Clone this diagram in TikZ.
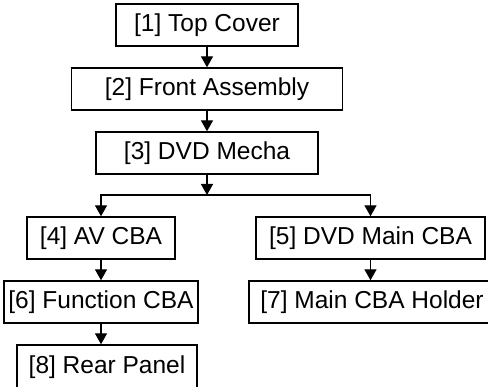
\documentclass[tikz,border=0pt]{standalone}
\usepackage{fontspec}
\setmainfont{Liberation Sans}
\usetikzlibrary{arrows.meta}

\begin{document}
\begin{tikzpicture}[x=1pt, y=-1pt,
  part/.style={draw, line width=1.4pt, minimum height=42pt, inner sep=0pt,
    font=\fontsize{24.5}{28}\selectfont},
  arr/.style={line width=1.4pt, -{Triangle[length=11pt, width=12pt]}}]
\useasboundingbox (0,0) rectangle (488,387);

\node [part, minimum width=182pt] (top) at (207,25) {[1] Top Cover};
\node [part, minimum width=271pt] (front) at (207,89) {[2] Front Assembly};
\node [part, minimum width=222pt] (mecha) at (207,153) {[3] DVD Mecha};
\node [part, minimum width=148pt] (av) at (101,238) {[4] AV CBA};
\node [part, minimum width=229pt] (dvdmain) at (370.5,238) {[5] DVD Main CBA};
\node [part, minimum width=194pt] (function) at (101,302) {[6] Function CBA};
\node [part, minimum width=246pt] (holder) at (372,302) {[7] Main CBA Holder};
\node [part, minimum width=180pt, minimum height=44pt] (rear) at (107,367) {[8] Rear Panel};

\coordinate (split) at (207,195);

\draw [arr] (top) -- (front);
\draw [arr] (front) -- (mecha);
\draw [arr] (mecha) -- (split);
\draw [arr] (split) -| (av.north);
\draw [arr] (split) -| (dvdmain.north);
\draw [arr] (av) -- (function);
\draw [arr] (dvdmain.south) -- (dvdmain.south |- holder.north);
\draw [arr] (function.south) -- (function.south |- rear.north);

\end{tikzpicture}
\end{document}
